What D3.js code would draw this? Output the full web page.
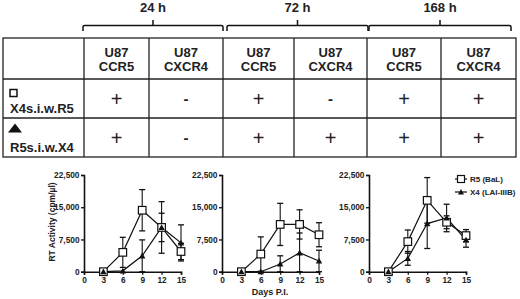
<!DOCTYPE html>
<html><head><meta charset="utf-8">
<script src="https://cdn.jsdelivr.net/npm/d3@7"></script>
<style>
body{margin:0;background:#fff;}
svg{display:block;font-family:"Liberation Sans",Arial,sans-serif;}
</style></head>
<body><svg id="c" width="520" height="299"></svg>
<script>
// ---- data ----
const timeLabels = ["24 h","72 h","168 h"];
const cellLines = [["U87","CCR5"],["U87","CXCR4"],["U87","CCR5"],["U87","CXCR4"],["U87","CCR5"],["U87","CXCR4"]];
const rowLabels = ["X4s.i.w.R5","R5s.i.w.X4"];
const row1Marks = ["+","-","+","-","+","+"];
const row2Marks = ["+","-","+","+","+","+"];

const days = [3,6,9,12,15];
const xTicks = [0,3,6,9,12,15];
const yTicks = [0,7500,15000,22500];
const seriesNames = ["R5 (BaL)","X4 (LAI-IIIB)"];

const r5_24h = [0,4500,14300,10300,4700];
const r5_24h_err = [0,3500,4800,6000,1900];
const x4_24h = [0,200,3700,10300,6700];
const x4_24h_err = [0,0,3700,3300,4200];

const r5_72h = [0,4100,11000,11000,8600];
const r5_72h_err = [0,4000,4900,3400,2800];
const x4_72h = [0,0,1800,4400,2500];
const x4_72h_err = [0,0,1900,4600,2500];

const r5_168h = [0,7000,16600,11500,8400];
const r5_168h_err = [0,2700,5300,1500,1400];
const x4_168h = [0,3100,11200,12500,7400];
const x4_168h_err = [0,1600,5800,3200,1700];

const panels = [
  {r5:r5_24h, r5e:r5_24h_err, x4:x4_24h, x4e:x4_24h_err},
  {r5:r5_72h, r5e:r5_72h_err, x4:x4_72h, x4e:x4_72h_err},
  {r5:r5_168h, r5e:r5_168h_err, x4:x4_168h, x4e:x4_168h_err}
];

const svg = d3.select("#c");

// ---- table ----
const colX = [3,84,149,223,294,367,441,516];
const rowY = [38,79,118,157];
const tbl = svg.append("g");
tbl.append("rect").attr("x",colX[0]).attr("y",rowY[0]).attr("width",colX[7]-colX[0]).attr("height",rowY[3]-rowY[0])
  .attr("fill","none").attr("stroke","#222").attr("stroke-width",1.3);
colX.slice(1,7).forEach(x=>tbl.append("line").attr("x1",x).attr("x2",x).attr("y1",rowY[0]).attr("y2",rowY[3]).attr("stroke","#222").attr("stroke-width",1.3));
rowY.slice(1,3).forEach(y=>tbl.append("line").attr("x1",colX[0]).attr("x2",colX[7]).attr("y1",y).attr("y2",y).attr("stroke","#222").attr("stroke-width",1.3));

cellLines.forEach((c,i)=>{
  const cx=(colX[i+1]+colX[i+2])/2;
  c.forEach((t,j)=>tbl.append("text").attr("x",cx).attr("y",56.5+j*14).attr("text-anchor","middle")
    .attr("font-size",13).attr("font-weight","bold").attr("fill","#222").text(t));
});
[row1Marks,row2Marks].forEach((marks,r)=>{
  marks.forEach((m,i)=>{
    const cx=(colX[i+1]+colX[i+2])/2;
    const cy=(rowY[r+1]+rowY[r+2])/2;
    if(m==="+") tbl.append("text").attr("x",cx).attr("y",cy+7).attr("text-anchor","middle")
      .attr("font-size",20).attr("fill","#222").text(m);
    else tbl.append("text").attr("x",cx).attr("y",cy+5.5).attr("text-anchor","middle")
      .attr("font-size",15).attr("font-weight","bold").attr("fill","#222").text(m);
  });
});
// row labels and icons
tbl.append("rect").attr("x",10).attr("y",89.5).attr("width",7).attr("height",7).attr("fill","#fff").attr("stroke","#111").attr("stroke-width",1.5);
tbl.append("text").attr("x",10).attr("y",112.5).attr("font-size",13).attr("font-weight","bold").attr("fill","#222").text(rowLabels[0]);
tbl.append("path").attr("d","M8,132.5 L15,123.5 L22,132.5 Z").attr("fill","#111");
tbl.append("text").attr("x",10).attr("y",151.5).attr("font-size",13).attr("font-weight","bold").attr("fill","#222").text(rowLabels[1]);

// brackets
const brackets=[[83,223],[227,368],[369,511]];
brackets.forEach((b,i)=>{
  const [a,e]=b, m=(a+e)/2, y=25.5;
  svg.append("path").attr("d",`M${a},31 L${a},${y+1.5} Q${a},${y} ${a+1.5},${y} L${e-1.5},${y} Q${e},${y} ${e},${y+1.5} L${e},31 M${m},${y} L${m},20`)
    .attr("fill","none").attr("stroke","#111").attr("stroke-width",1.5);
  svg.append("text").attr("x",m).attr("y",12).attr("text-anchor","middle").attr("font-size",13).attr("font-weight","bold").attr("fill","#222").text(timeLabels[i]);
});

// ---- charts ----
const x0s=[84,222,369];
const yScale=d3.scaleLinear().domain([0,22500]).range([271.7,175]);
const fmt=d3.format(",");
panels.forEach((p,pi)=>{
  const xs=d3.scaleLinear().domain([0,15]).range([x0s[pi],x0s[pi]+97]);
  const g=svg.append("g");
  const ya=g.append("g").attr("transform",`translate(${x0s[pi]},0)`)
    .call(d3.axisLeft(yScale).tickValues(yTicks).tickFormat(fmt).tickSize(3).tickPadding(1.5));
  const xa=g.append("g").attr("transform",`translate(0,${yScale(0)})`)
    .call(d3.axisBottom(xs).tickValues(xTicks).tickSize(3).tickPadding(2));
  [ya,xa].forEach(a=>{
    a.select(".domain").attr("stroke","#111").attr("stroke-width",1.6);
    a.selectAll(".tick line").attr("stroke","#111").attr("stroke-width",1.3);
    a.selectAll("text").attr("font-size",8.3).attr("font-weight","bold").attr("fill","#222")
      .attr("font-family","'Liberation Sans',Arial,sans-serif");
  });
  const line=d3.line().x((d,i)=>xs(days[i])).y(d=>yScale(d));
  const drawSeries=(vals,errs)=>{
    g.append("path").datum(vals).attr("d",line).attr("fill","none").attr("stroke","#111").attr("stroke-width",1.2);
    vals.forEach((v,i)=>{
      if(errs[i]>0){
        const x=xs(days[i]), y1=yScale(v+errs[i]), y2=yScale(Math.max(0,v-errs[i]));
        g.append("line").attr("x1",x).attr("x2",x).attr("y1",y1).attr("y2",y2).attr("stroke","#111").attr("stroke-width",1.1);
        [y1,y2].forEach(y=>g.append("line").attr("x1",x-3).attr("x2",x+3).attr("y1",y).attr("y2",y).attr("stroke","#111").attr("stroke-width",1.3));
      }
    });
  };
  drawSeries(p.r5,p.r5e);
  drawSeries(p.x4,p.x4e);
  p.r5.forEach((v,i)=>g.append("rect").attr("x",xs(days[i])-3.8).attr("y",yScale(v)-3.8).attr("width",7.6).attr("height",7.6)
    .attr("fill","#fff").attr("stroke","#111").attr("stroke-width",1.2));
  p.x4.forEach((v,i)=>{const x=xs(days[i]),y=yScale(v);
    g.append("path").attr("d",`M${x-3.2},${y+2.6} L${x},${y-3.2} L${x+3.2},${y+2.6} Z`).attr("fill","#111");});
});
// axis titles
svg.append("text").attr("transform","translate(55,222) rotate(-90)").attr("text-anchor","middle")
  .attr("font-size",8.5).attr("font-weight","bold").attr("fill","#222").text("RT Activity (cpm/µl)");
svg.append("text").attr("x",270).attr("y",295).attr("text-anchor","middle")
  .attr("font-size",9).attr("font-weight","bold").attr("fill","#222").text("Days P.I.");
// legend
const lg=svg.append("g");
seriesNames.forEach((n,i)=>{
  const y=179+i*13;
  lg.append("line").attr("x1",455).attr("x2",467).attr("y1",y).attr("y2",y).attr("stroke","#111").attr("stroke-width",1.2);
  if(i===0) lg.append("rect").attr("x",457.5).attr("y",y-3.5).attr("width",7).attr("height",7).attr("fill","#fff").attr("stroke","#111").attr("stroke-width",1.2);
  else lg.append("path").attr("d",`M458,${y+2.5} L461,${y-3} L464,${y+2.5} Z`).attr("fill","#111");
  lg.append("text").attr("x",470).attr("y",y+3).attr("font-size",8).attr("font-weight","bold").attr("fill","#222").text(n);
});
</script></body></html>
